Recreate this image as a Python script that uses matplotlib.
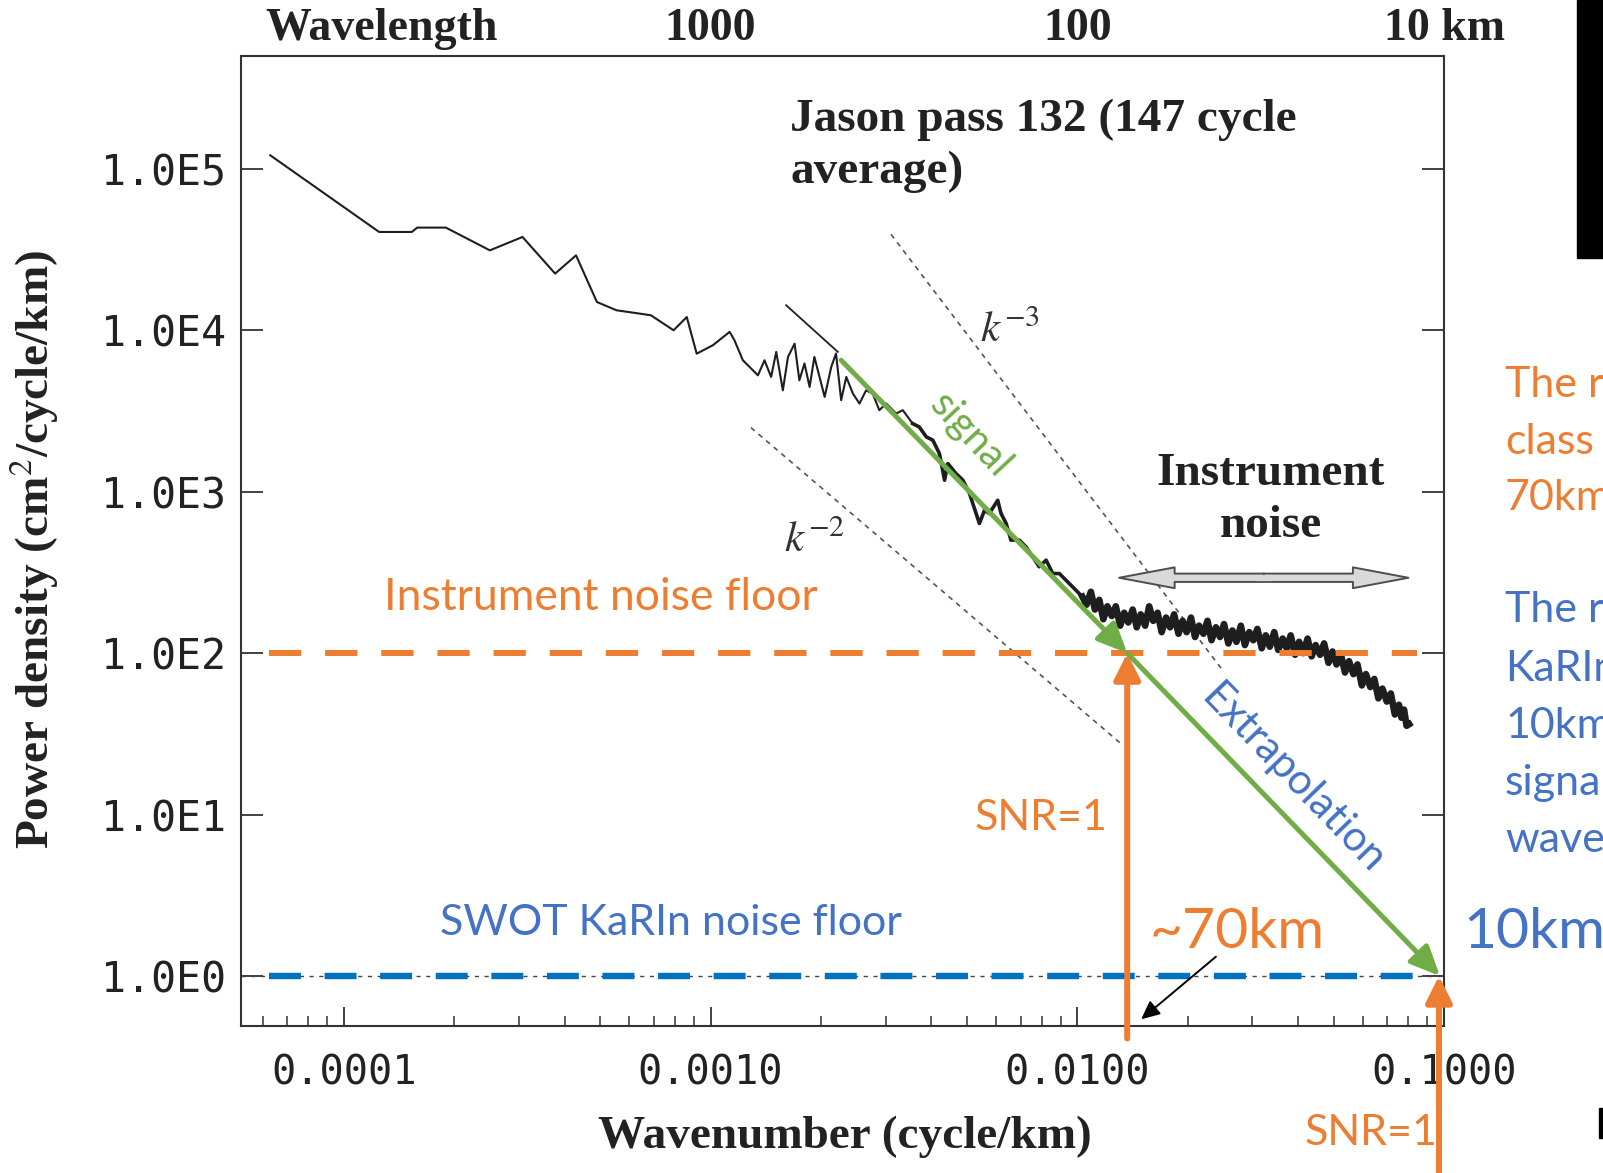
import numpy as np
import matplotlib
matplotlib.use("Agg")
import matplotlib.pyplot as plt
from matplotlib.patches import Rectangle, FancyArrowPatch, ArrowStyle
from matplotlib.ticker import LogLocator, NullFormatter, NullLocator

plt.rcParams['mathtext.fontset'] = 'stix'

# ---------------- data ----------------
# Jason pass 132 spectrum, stored as log10 values
spec_log10_k = [
    -4.201, -3.904, -3.815, -3.800, -3.722, -3.602, -3.513, -3.424, -3.367, -3.310,
    -3.257, -3.163, -3.101, -3.065, -3.038, -2.994, -2.948, -2.935, -2.912, -2.871,
    -2.853, -2.835, -2.821, -2.803, -2.789, -2.771, -2.758, -2.744, -2.730, -2.717,
    -2.703, -2.689, -2.671, -2.658, -2.644, -2.630, -2.612, -2.594, -2.576, -2.558,
    -2.540, -2.521, -2.494, -2.476, -2.449, -2.431, -2.412, -2.394, -2.376, -2.362,
    -2.353, -2.331, -2.312, -2.294, -2.267, -2.253, -2.240, -2.217, -2.208, -2.194,
    -2.181, -2.158, -2.140, -2.122, -2.104, -2.085, -2.067, -2.049, -2.031, -2.013,
    -1.986,
    -1.975, -1.963, -1.952, -1.940, -1.929, -1.918, -1.906, -1.895, -1.883, -1.872,
    -1.861, -1.849, -1.838, -1.827, -1.815, -1.804, -1.793, -1.781, -1.770, -1.758,
    -1.747, -1.736, -1.724, -1.713, -1.702, -1.690, -1.679, -1.668, -1.656, -1.645,
    -1.634, -1.622, -1.611, -1.600, -1.588, -1.577, -1.566, -1.554, -1.543, -1.531,
    -1.520, -1.509, -1.497, -1.486, -1.475, -1.463, -1.452, -1.440, -1.429, -1.418,
    -1.406, -1.395, -1.384, -1.372, -1.361, -1.350, -1.338, -1.327, -1.315, -1.304,
    -1.293, -1.282, -1.270, -1.259, -1.247, -1.236, -1.224, -1.213, -1.201, -1.190,
    -1.179, -1.168, -1.156, -1.145, -1.134, -1.123, -1.116, -1.109, -1.102, -1.095,
]
spec_log10_p = [
    5.084, 4.609, 4.609, 4.636, 4.636, 4.495, 4.578, 4.351, 4.464, 4.175,
    4.124, 4.093, 4.000, 4.082, 3.855, 3.907, 3.990, 3.938, 3.814, 3.721,
    3.814, 3.711, 3.866, 3.628, 3.835, 3.917, 3.690, 3.794, 3.649, 3.835,
    3.711, 3.587, 3.773, 3.856, 3.567, 3.711, 3.608, 3.546, 3.628, 3.608,
    3.505, 3.546, 3.484, 3.505, 3.422, 3.401, 3.340, 3.319, 3.236, 3.071,
    3.174, 3.113, 3.071, 2.989, 2.803, 2.885, 2.865, 2.947, 2.865, 2.803,
    2.700, 2.700, 2.658, 2.597, 2.535, 2.576, 2.493, 2.493, 2.452, 2.411,
    2.349,
    2.300, 2.380, 2.270, 2.330, 2.210, 2.290, 2.230, 2.290, 2.170, 2.250,
    2.190, 2.270, 2.160, 2.240, 2.170, 2.290, 2.200, 2.250, 2.130, 2.220,
    2.160, 2.240, 2.120, 2.200, 2.130, 2.220, 2.100, 2.170, 2.120, 2.200,
    2.080, 2.160, 2.100, 2.180, 2.060, 2.140, 2.070, 2.170, 2.050, 2.130,
    2.080, 2.150, 2.030, 2.110, 2.040, 2.130, 2.020, 2.090, 2.030, 2.110,
    1.990, 2.070, 2.000, 2.090, 1.980, 2.050, 1.990, 2.060, 1.940, 2.010,
    1.930, 2.000, 1.880, 1.950, 1.870, 1.930, 1.800, 1.870, 1.790, 1.840,
    1.720, 1.780, 1.700, 1.750, 1.620, 1.680, 1.600, 1.650, 1.550, 1.560,
]

# reference slopes (dotted) and short fitted segment
k2_line_k = [0.001288, 0.01313]
k2_line_p = [2495.0, 27.6]
k3_line_k = [0.003105, 0.02489]
k3_line_p = [39264.0, 78.5]
fit_seg_k = [0.001607, 0.002223]
fit_seg_p = [14289.0, 7345.0]

# noise floors
instrument_floor = 100.0
swot_floor = 1.0
floor_k_range = [6.25e-5, 0.0843]

# signal / extrapolation arrows
signal_k = [0.00227, 0.01368]
signal_p = [6520.0, 100.0]
extrap_k = [0.01368, 0.0975]
extrap_p = [100.0, 1.0]

# SNR=1 wavenumbers
snr_k_altimeter = 0.01368
snr_k_swot = 0.0969

# instrument-noise double arrow
noise_arrow_k = [0.0130, 0.0800]
noise_arrow_p = 293.0

# "~70km" pointer
pointer_from = (0.02388, 1.317)
pointer_to = (0.01493, 0.539)

x_ticks = [1e-4, 1e-3, 1e-2, 1e-1]
x_ticklabels = ["0.0001", "0.0010", "0.0100", "0.1000"]
y_ticks = [1e0, 1e1, 1e2, 1e3, 1e4, 1e5]
y_ticklabels = ["1.0E0", "1.0E1", "1.0E2", "1.0E3", "1.0E4", "1.0E5"]
top_ticks = [1e-3, 1e-2, 1e-1]
top_ticklabels = ["1000", "100", "10 km"]

# ---------------- style ----------------
W, H = 1603, 1173
def fx(px):
    return px / W
def fy(py):
    return 1 - py / H

ORANGE = '#ED7D31'
BLUE_TXT = '#4472C4'
BLUE_LINE = '#0070C0'
GREEN = '#70AD47'
SERIF = 'Liberation Serif'
MONO = 'DejaVu Sans Mono'
OFFICE = 'Lato'
INK = '#1e1e1e'
SERIF_SIZE = 34
OFFICE_SIZE = 31

fig = plt.figure(figsize=(W / 100, H / 100), dpi=100)
fig.patch.set_facecolor('white')
ax = fig.add_axes([fx(241), fy(1026), (1444 - 241) / W, (1026 - 56) / H])
ax.set_xscale('log')
ax.set_yscale('log')
ax.set_xlim(5.24e-5, 0.1)
ax.set_ylim(0.49, 5.0e5)

for s in ax.spines.values():
    s.set_linewidth(1.5)
    s.set_color('#333333')

ax.set_xticks(x_ticks, x_ticklabels)
ax.xaxis.set_minor_locator(LogLocator(base=10, subs=np.arange(2, 10), numticks=30))
ax.xaxis.set_minor_formatter(NullFormatter())
ax.set_yticks(y_ticks, y_ticklabels)
ax.yaxis.set_minor_locator(NullLocator())
ax.tick_params(axis='x', which='major', direction='in', length=14, width=1.3,
               top=True, bottom=True, pad=20, labelsize=29, colors='#333333')
ax.tick_params(axis='x', which='minor', direction='in', length=7, width=1.1,
               top=True, bottom=True, colors='#333333')
ax.tick_params(axis='y', which='major', direction='in', length=16, width=1.3,
               left=True, right=True, pad=11, labelsize=30, colors='#333333')
for lab in ax.get_xticklabels() + ax.get_yticklabels():
    lab.set_fontfamily(MONO)
    lab.set_color('#222222')

# top axis labels (wavelength)
ax2 = ax.twiny()
ax2.set_xscale('log')
ax2.set_xlim(ax.get_xlim())
ax2.set_xticks(top_ticks, top_ticklabels)
ax2.xaxis.set_minor_locator(NullLocator())
ax2.tick_params(axis='x', length=0, pad=4, labelsize=SERIF_SIZE - 1)
for lab in ax2.get_xticklabels():
    lab.set_fontfamily(SERIF)
    lab.set_fontweight('bold')
    lab.set_color('#222222')
for s in ax2.spines.values():
    s.set_visible(False)

fig.text(fx(382), fy(29), "Wavelength", family=SERIF, weight='bold', size=SERIF_SIZE - 1,
         ha='center', va='center', color='#222222')
fig.text(fx(845), fy(1137), "Wavenumber (cycle/km)", family=SERIF, weight='bold',
         size=SERIF_SIZE, ha='center', va='center', color='#222222')
fig.text(fx(34), fy(549), "Power density (cm$^{2}$/cycle/km)", family=SERIF,
         weight='bold', size=SERIF_SIZE, ha='center', va='center', rotation=90,
         color='#222222')

# ---------------- spectrum ----------------
k = 10 ** np.array(spec_log10_k)
p = 10 ** np.array(spec_log10_p)
ax.plot(k, p, color=INK, lw=1.5, zorder=3, solid_joinstyle='round')
mid = k > 10 ** -2.45
ax.plot(k[mid], p[mid], color=INK, lw=2.6, zorder=3, solid_joinstyle='round')
noisy = k > 10 ** -1.99
ax.plot(k[noisy], p[noisy], color=INK, lw=4.8, zorder=3, solid_joinstyle='round')

ax.plot(k2_line_k, k2_line_p, color='#555555', lw=1.2, dashes=(3, 3), zorder=2)
ax.plot(k3_line_k, k3_line_p, color='#555555', lw=1.2, dashes=(3, 3), zorder=2)
ax.plot(fit_seg_k, fit_seg_p, color=INK, lw=1.3, zorder=3)

# original thin dash line at 1.0E0
ax.plot([ax.get_xlim()[0], 0.1], [swot_floor, swot_floor], color='#444444', lw=1.0,
        dashes=(3, 4), zorder=2)

# noise floors
ax.plot(floor_k_range, [instrument_floor] * 2, color=ORANGE, lw=4.3,
        dashes=(5.4, 4.0), zorder=4)
ax.plot(floor_k_range, [swot_floor] * 2, color=BLUE_LINE, lw=4.6,
        dashes=(5.0, 3.7), zorder=4)

# k^-n labels
ax.text(10 ** (-3 + (1010 - 711) / 367), 10 ** ((976 - 330) / 161.5), "$k^{-3}$",
        size=31, ha='center', va='center', color='#333333')
ax.text(10 ** (-3 + (815 - 711) / 367), 10 ** ((976 - 540) / 161.5), "$k^{-2}$",
        size=31, ha='center', va='center', color='#333333')

fig.text(fx(790), fy(146), "Jason pass 132 (147 cycle\naverage)", family=SERIF,
         weight='bold', size=SERIF_SIZE, ha='left', va='center', linespacing=1.3,
         color='#222222')
fig.text(fx(1271), fy(500), "Instrument\nnoise", family=SERIF,
         weight='bold', size=SERIF_SIZE, ha='center', va='center', linespacing=1.34,
         color='#222222')

# instrument noise double arrow (hollow, light grey with dark outline)
k_mid = np.sqrt(noise_arrow_k[0] * noise_arrow_k[1])
for k_end in noise_arrow_k:
    arr = FancyArrowPatch((k_mid, noise_arrow_p), (k_end, noise_arrow_p),
                          arrowstyle=ArrowStyle.Simple(head_length=4.0, head_width=1.5,
                                                       tail_width=0.6),
                          mutation_scale=10, fc='#d9d9d9', ec='#4d4d4d', lw=1.4,
                          shrinkA=0, shrinkB=0, zorder=5)
    ax.add_patch(arr)
ax.plot([k_mid / 1.05, k_mid * 1.05], [noise_arrow_p] * 2, color='#d9d9d9', lw=4.5,
        solid_capstyle='butt', zorder=5.5)

# green arrows
for kk, pp in [(signal_k, signal_p), (extrap_k, extrap_p)]:
    ax.annotate('', xy=(kk[1], pp[1]), xytext=(kk[0], pp[0]),
                arrowprops=dict(arrowstyle='-|>,head_length=1.0,head_width=0.45',
                                mutation_scale=18, lw=3.6, color=GREEN,
                                shrinkA=0, shrinkB=0),
                zorder=6)

# orange SNR arrows
ax.annotate('', xy=(snr_k_altimeter, instrument_floor), xytext=(snr_k_altimeter, 0.41),
            arrowprops=dict(arrowstyle='-|>,head_length=0.88,head_width=0.44',
                            mutation_scale=18, lw=4.3, color=ORANGE,
                            shrinkA=0, shrinkB=0),
            zorder=7)
ax.annotate('', xy=(snr_k_swot, swot_floor), xytext=(snr_k_swot, 0.04),
            arrowprops=dict(arrowstyle='-|>,head_length=0.88,head_width=0.44',
                            mutation_scale=18, lw=4.3, color=ORANGE,
                            shrinkA=0, shrinkB=0),
            zorder=7)

# black pointer to ~70km
ax.annotate('', xy=pointer_to, xytext=pointer_from,
            arrowprops=dict(arrowstyle='-|>,head_length=0.75,head_width=0.35',
                            mutation_scale=15, lw=1.4, color='black',
                            shrinkA=0, shrinkB=0),
            zorder=7)

# ---------------- overlay texts ----------------
fig.text(fx(601), fy(598), "Instrument noise floor", family=OFFICE, size=OFFICE_SIZE + 1,
         color=ORANGE, ha='center', va='center')
fig.text(fx(671), fy(923), "SWOT KaRIn noise floor", family=OFFICE, size=OFFICE_SIZE,
         color=BLUE_TXT, ha='center', va='center')
fig.text(fx(1041), fy(818), "SNR=1", family=OFFICE, size=OFFICE_SIZE,
         color=ORANGE, ha='center', va='center')
fig.text(fx(1371), fy(1133), "SNR=1", family=OFFICE, size=OFFICE_SIZE,
         color=ORANGE, ha='center', va='center')
fig.text(fx(1237), fy(932), "~70km", family=OFFICE, size=41,
         color=ORANGE, ha='center', va='center')
fig.text(fx(1463), fy(932), "10km", family=OFFICE, size=41,
         color=BLUE_TXT, ha='left', va='center')
fig.text(fx(970), fy(435), "signal", family=OFFICE, size=29, color=GREEN,
         ha='center', va='center', rotation=-47, rotation_mode='anchor')
fig.text(fx(1293), fy(779), "Extrapolation", family=OFFICE, size=30, color=BLUE_TXT,
         ha='center', va='center', rotation=-46, rotation_mode='anchor')

for txt, y in [("The r", 385), ("class", 442), ("70km", 498)]:
    fig.text(fx(1505), fy(y), txt, family=OFFICE, size=OFFICE_SIZE, color=ORANGE,
             ha='left', va='center')
for txt, y in [("The r", 610), ("KaRIn", 669), ("10km", 726), ("signa", 783), ("wave", 840)]:
    fig.text(fx(1505), fy(y), txt, family=OFFICE, size=OFFICE_SIZE, color=BLUE_TXT,
             ha='left', va='center')

# black block at top right and small mark at bottom right (slide fragments)
fig.patches.append(Rectangle((fx(1577), fy(258)), (W - 1577) / W, 258 / H,
                             transform=fig.transFigure, color='black', zorder=10))
fig.patches.append(Rectangle((fx(1599), fy(1138)), 4 / W, 30 / H,
                             transform=fig.transFigure, color='black', zorder=10))

fig.savefig('out.png', dpi=100)
